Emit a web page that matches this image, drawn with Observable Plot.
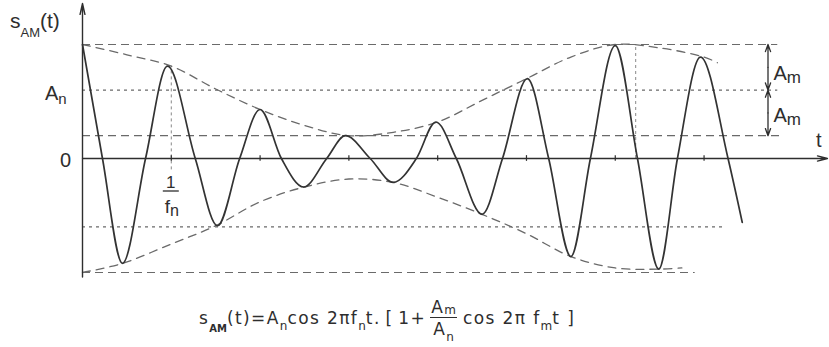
<!DOCTYPE html>
<html><head><meta charset="utf-8">
<script src="https://cdn.jsdelivr.net/npm/d3@7"></script>
<script src="https://cdn.jsdelivr.net/npm/@observablehq/plot@0.6"></script>
<style>
body{margin:0;background:#fff;}
#chart{position:relative;width:829px;height:347px;font-family:"Liberation Sans",Arial,sans-serif;color:#2e2e2e}
#formula{position:absolute;left:199px;top:298px;font-family:"DejaVu Sans",sans-serif;font-size:17px;line-height:20px;white-space:nowrap;letter-spacing:1.4px}
#formula sub{font-size:12px;vertical-align:-6px;line-height:0;letter-spacing:0}
#formula .frac{display:inline-block;vertical-align:middle;text-align:center;margin:0 6px 0 4px;line-height:18px}
#formula .num{display:block;border-bottom:1px solid #2e2e2e;line-height:18px;padding:0 1px 1px}
#formula .num sub{vertical-align:-1px}
#formula .den{display:block;line-height:22px}
</style></head><body>
<div id="chart"></div>
<script>
// signal s_AM(t): extrema and zero crossings (t in carrier periods, value in units of An+Am)
const sigT = [0, 0.225, 0.45, 0.71, 0.957, 1.27, 1.52, 1.77, 2.0, 2.24, 2.49, 2.75, 2.96, 3.24, 3.5, 3.76, 3.98, 4.21, 4.5, 4.73, 5.01, 5.25, 5.5, 5.72, 6.0, 6.25, 6.49, 6.70, 6.96, 7.27, 7.43];
const sigV = [1.0, 0, -0.92, 0, 0.81, 0, -0.59, 0, 0.43, 0, -0.25, 0, 0.20, 0, -0.21, 0, 0.32, 0, -0.49, 0, 0.70, 0, -0.86, 0, 0.99, 0, -0.97, 0, 0.89, 0, -0.56];
// envelopes (dashed)
const envUpT = [0, 0.5, 1, 1.5, 2, 2.5, 3, 3.5, 4, 4.5, 5, 5.5, 6, 6.5, 7, 7.15];
const envUpV = [1.0, 0.91, 0.81, 0.61, 0.43, 0.29, 0.20, 0.23, 0.32, 0.51, 0.70, 0.89, 1.0, 0.97, 0.89, 0.84];
const envLoT = [0, 0.45, 1, 1.5, 2, 2.5, 3, 3.5, 4, 4.5, 5, 5.5, 6, 6.5, 6.75];
const envLoV = [-1.0, -0.92, -0.75, -0.59, -0.38, -0.25, -0.18, -0.21, -0.34, -0.49, -0.66, -0.86, -0.96, -0.97, -0.96];
// reference levels: An+Am, An, An-Am, -An, -(An+Am)
const refLevels = [1, 0.6, 0.2, -0.6, -1];
const refEnds = [7.83, 7.83, 7.86, 7.21, 6.90];
const dottedLevels = [0.6, -0.6];
// carrier period ticks on the t axis
const tickT = [1, 2, 3, 4, 5, 6, 7];
// vertical marker lines
const markT = [1, 6.23];
const markTop = [0.81, 1];
const markBottom = [-0.1, 0];
// Am dimension
const amT = 7.72;
const amLevels = [1, 0.6, 0.2];
// axis extents
const tMax = 8.3, tArrow = 8.39, yAxisLow = -1.04, yAxisHigh = 1.36;

const ink = "#2e2e2e", guide = "#6a6a6a";
const sig = sigT.map((t, i) => ({t, v: sigV[i]}));
const up = envUpT.map((t, i) => ({t, v: envUpV[i]}));
const lo = envLoT.map((t, i) => ({t, v: envLoV[i]}));
const refs = refLevels.map((v, i) => ({v, end: refEnds[i]}));
const amArrows = [];
for (let i = 0; i < amLevels.length - 1; i++) {
  const mid = (amLevels[i] + amLevels[i + 1]) / 2;
  amArrows.push({y1: mid, y2: amLevels[i]}, {y1: mid, y2: amLevels[i + 1]});
}
const marks = markT.map((t, i) => ({t, y1: markBottom[i], y2: markTop[i]}));

const plot = Plot.plot({
  width: 829, height: 290,
  marginLeft: 82, marginRight: 10, marginTop: 44, marginBottom: 18,
  x: {domain: [0, tMax], axis: null},
  y: {domain: [-1, 1], axis: null},
  style: {background: "transparent", overflow: "visible"},
  marks: [
    Plot.ruleY(refs.filter(d => !dottedLevels.includes(d.v)), {y: "v", x1: 0, x2: "end", stroke: guide, strokeWidth: 1.2, strokeDasharray: "8,5"}),
    Plot.ruleY(refs.filter(d => dottedLevels.includes(d.v)), {y: "v", x1: 0, x2: "end", stroke: guide, strokeWidth: 1.1, strokeDasharray: "3,4"}),
    Plot.ruleX(marks, {x: "t", y1: "y1", y2: "y2", stroke: "#888", strokeWidth: 1, strokeDasharray: "3,3"}),
    Plot.line(up, {x: "t", y: "v", curve: "catmull-rom", stroke: guide, strokeWidth: 1.3, strokeDasharray: "8,6"}),
    Plot.line(lo, {x: "t", y: "v", curve: "catmull-rom", stroke: guide, strokeWidth: 1.3, strokeDasharray: "8,6"}),
    Plot.arrow([0], {x1: 0, y1: 0, x2: tArrow, y2: 0, stroke: ink, strokeWidth: 1.3, headLength: 12, headAngle: 30}),
    Plot.arrow([0], {x1: 0, y1: yAxisLow, x2: 0, y2: yAxisHigh, stroke: ink, strokeWidth: 1.4, headLength: 12, headAngle: 25}),
    Plot.ruleX(tickT, {x: d => d, y1: -0.025, y2: 0.025, stroke: ink, strokeWidth: 1.2}),
    Plot.arrow(amArrows, {x1: amT, x2: amT, y1: "y1", y2: "y2", stroke: ink, strokeWidth: 1.3, headLength: 9, headAngle: 40}),
    Plot.line(sig, {x: "t", y: "v", curve: "monotone-x", stroke: "#333", strokeWidth: 1.7})
  ]
});
document.getElementById("chart").appendChild(plot);

const X = plot.scale("x"), Y = plot.scale("y");
const svg = d3.select(plot);
const font = '"Liberation Sans", Arial, sans-serif';
function label(parts, t, v, dx, dy, size, anchor = "start", subShift = 6, subScale = 0.65) {
  const tx = svg.append("text")
    .attr("x", X.apply(t) + dx).attr("y", Y.apply(v) + dy)
    .attr("font-size", size).attr("text-anchor", anchor)
    .attr("fill", ink).attr("font-family", font);
  let shift = 0;
  for (const [s, sub] of parts) {
    const ts = tx.append("tspan").text(s);
    const target = sub ? subShift : 0;
    if (target !== shift) { ts.attr("dy", target - shift); shift = target; }
    if (sub) ts.attr("font-size", size * subScale);
  }
}
label([["s", 0], ["AM", 1], ["(t)", 0]], 0, 1, -72, -16, 21, "start", 9, 0.62);
label([["A", 0], ["n", 1]], 0, 0.6, -37, 10, 20, "start", 4, 0.75);
label([["0", 0]], 0, 0, -11, 9, 20, "end");
label([["1", 0]], 1, 0, 0, 30, 17, "middle");
label([["f", 0], ["n", 1]], 1, 0, 1, 55, 19, "middle", 3, 0.85);
svg.append("line")
  .attr("x1", X.apply(1) - 8).attr("x2", X.apply(1) + 8)
  .attr("y1", Y.apply(0) + 33).attr("y2", Y.apply(0) + 33)
  .attr("stroke", ink).attr("stroke-width", 1.3);
label([["A", 0], ["m", 1]], amT, (amLevels[0] + amLevels[1]) / 2, 6, 13, 20, "start", 3, 0.85);
label([["A", 0], ["m", 1]], amT, (amLevels[1] + amLevels[2]) / 2, 6, 10, 20, "start", 3, 0.85);
label([["t", 0]], tMax, 0, -3, -11, 20, "start");

const f = document.createElement("div");
f.id = "formula";
f.innerHTML = 's<sub style="font-weight:bold;font-size:10px;vertical-align:-8px">AM</sub>(t)=A<sub>n</sub>cos 2&pi;f<sub>n</sub>t.&thinsp;[&thinsp;1+<span class="frac"><span class="num">A<sub>m</sub></span><span class="den">A<sub>n</sub></span></span>cos 2&pi; f<sub>m</sub>t ]';
document.getElementById("chart").appendChild(f);
</script>
</body></html>
